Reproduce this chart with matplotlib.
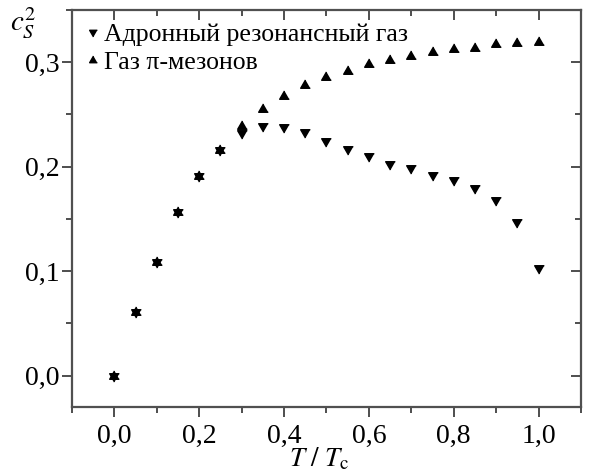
import matplotlib.pyplot as plt
from matplotlib.ticker import MultipleLocator, FuncFormatter

plt.rcParams['font.family'] = 'serif'
plt.rcParams['font.serif'] = ['Liberation Serif', 'DejaVu Serif']
plt.rcParams['mathtext.fontset'] = 'stix'

# T / Tc
t = [0.0, 0.05, 0.1, 0.15, 0.2, 0.25, 0.3, 0.35, 0.4, 0.45, 0.5,
     0.55, 0.6, 0.65, 0.7, 0.75, 0.8, 0.85, 0.9, 0.95, 1.0]

# hadron resonance gas
cs2_hadron = [0.0, 0.061, 0.109, 0.157, 0.191, 0.216, 0.232, 0.239, 0.238,
              0.233, 0.225, 0.217, 0.210, 0.203, 0.199, 0.192, 0.187,
              0.180, 0.168, 0.147, 0.103]

# pion gas
cs2_pion = [0.0, 0.061, 0.109, 0.157, 0.191, 0.216, 0.239, 0.255, 0.268,
            0.278, 0.286, 0.292, 0.298, 0.302, 0.306, 0.310, 0.313,
            0.314, 0.317, 0.318, 0.319]

labels = ["Адронный резонансный газ", "Газ π-мезонов"]

# equilateral triangles centred on their centroid, so that overlapping
# points look like a star
tri_up = [(0, 0.577), (-0.5, -0.289), (0.5, -0.289)]
tri_down = [(0, -0.577), (-0.5, 0.289), (0.5, 0.289)]

fig = plt.figure(figsize=(6.01, 4.74), dpi=100)
ax = fig.add_axes([0.1198, 0.1414, 0.8469, 0.8375])

ax.plot(t, cs2_hadron, linestyle='none', marker=tri_down, markersize=8,
        color='black', label=labels[0])
ax.plot(t, cs2_pion, linestyle='none', marker=tri_up, markersize=8,
        color='black', label=labels[1])

ax.set_xlim(-0.1, 1.1)
ax.set_ylim(-0.03, 0.35)

ax.xaxis.set_major_locator(MultipleLocator(0.2))
ax.xaxis.set_minor_locator(MultipleLocator(0.1))
ax.yaxis.set_major_locator(MultipleLocator(0.1))
ax.yaxis.set_minor_locator(MultipleLocator(0.05))

comma = FuncFormatter(lambda v, p: f"{v:.1f}".replace('.', ','))
ax.xaxis.set_major_formatter(comma)
ax.yaxis.set_major_formatter(comma)

for s in ax.spines.values():
    s.set_linewidth(1.6)
    s.set_color('#505050')

ax.tick_params(which='both', top=True, right=True, labelsize=20,
               color='#404040', width=1.3)
ax.tick_params(which='major', length=7)
ax.tick_params(which='minor', length=4)
ax.tick_params(axis='x', which='both', bottom=True, direction='out', pad=5)
ax.tick_params(axis='y', which='both', left=True, direction='out', pad=2)
# top and right ticks point inward
for tk in ax.xaxis.get_major_ticks() + ax.xaxis.get_minor_ticks():
    tk.tick2line.set_marker(3)
for tk in ax.yaxis.get_major_ticks() + ax.yaxis.get_minor_ticks():
    tk.tick2line.set_marker(0)

ax.set_xlabel(r"$T\ /\ T_{\mathrm{c}}$", fontsize=19.5)
ax.xaxis.set_label_coords(0.485, -0.098)
fig.text(0.038, 0.99, r"$c_S^2$", fontsize=21, ha='center', va='top')

ax.legend(loc='upper left', frameon=False,
          prop={'family': 'Liberation Serif', 'size': 18.5},
          handlelength=0.6, handletextpad=0.15, markerscale=0.8,
          borderaxespad=0.2, labelspacing=0.2, borderpad=0.3)

fig.savefig('out.png', dpi=100)
